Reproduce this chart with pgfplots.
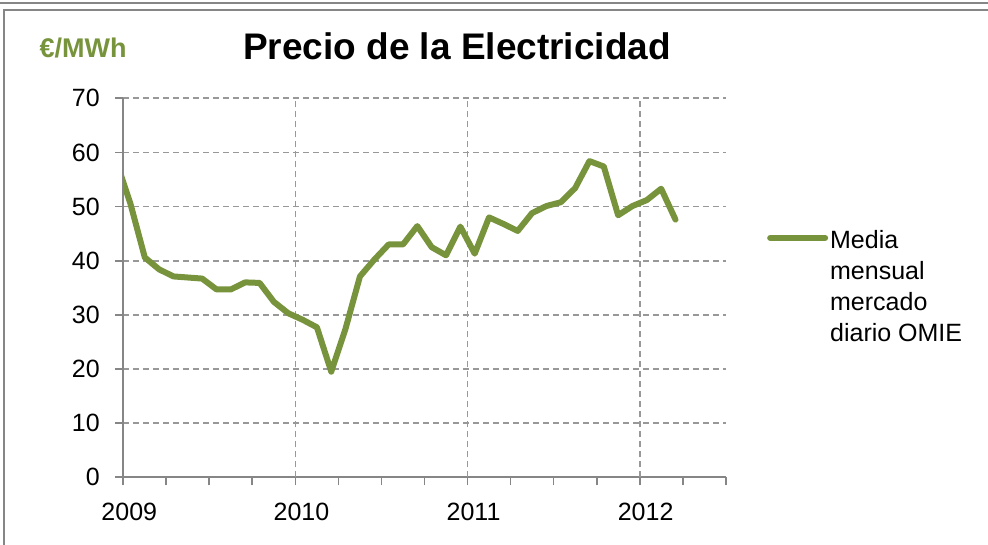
\documentclass[border=0pt]{standalone}
\usepackage{pgfplots}
\pgfplotsset{compat=1.18}
\usepackage{fontspec}
\setmainfont{Liberation Sans}
\definecolor{lgreen}{RGB}{119,147,60}
\definecolor{axgray}{RGB}{134,134,134}
\definecolor{grdgray}{RGB}{152,152,152}
\begin{document}
\begin{tikzpicture}
\useasboundingbox (0pt,0pt) rectangle (988pt,545pt);
\draw[axgray, line width=2.5pt] (0pt,542pt) -- (988pt,542pt);
\draw[axgray, line width=2pt] (4pt,-5pt) -- (4pt,535pt) -- (993pt,535pt);
\node[font=\fontsize{37}{44}\selectfont\bfseries] at (457pt,499pt) {Precio de la Electricidad};
\node[font=\fontsize{27}{32}\selectfont\bfseries, text=lgreen] at (83pt,497pt) {€/MWh};
\begin{axis}[
  at={(123.3pt,67.7pt)}, anchor=south west,
  scale only axis, width=602.4pt, height=379pt,
  xmin=2009, xmax=2012.5, ymin=0, ymax=70,
  axis lines*=left,
  axis line style={axgray, line width=1.8pt},
  xtick={2009,2009.25,2009.5,2009.75,2010,2010.25,2010.5,2010.75,2011,2011.25,2011.5,2011.75,2012,2012.25,2012.5},
  xticklabels={2009,,,,2010,,,,2011,,,,2012,,},
  extra x ticks={2010,2011,2012},
  extra x tick labels={},
  extra x tick style={grid=major, major tick length=0pt},
  ytick={0,10,20,30,40,50,60,70},
  yticklabels={0,10,20,30,40,50,60,70},
  tick align=outside, major tick length=8pt,
  tick style={axgray, line width=1.8pt},
  ymajorgrids,
  major grid style={grdgray, line width=1.8pt, dash pattern=on 6pt off 4pt},
  xticklabel style={font=\fontsize{25}{30}\selectfont, xshift=6pt, yshift=-14pt},
  yticklabel style={font=\fontsize{25}{30}\selectfont, xshift=-12pt},
  legend style={at={(1.0685,0.668)}, anchor=north west, draw=none, fill=none,
    font=\fontsize{25}{31}\selectfont, inner sep=0pt},
  legend cell align=left,
  legend image code/.code={\draw[#1,line cap=round] (0pt,0pt) -- (55pt,0pt);},
]
\addplot[lgreen, line width=6pt, line join=round, line cap=round] table {
x y
2008.9583 58.5
2009.0417 50.5
2009.125 40.6
2009.2083 38.4
2009.2917 37.1
2009.375 36.9
2009.4583 36.7
2009.5417 34.7
2009.625 34.7
2009.7083 36.0
2009.7917 35.9
2009.875 32.4
2009.9583 30.3
2010.0417 29.1
2010.125 27.7
2010.2083 19.5
2010.2917 27.5
2010.375 37.1
2010.4583 40.2
2010.5417 43.0
2010.625 43.0
2010.7083 46.4
2010.7917 42.5
2010.875 41.0
2010.9583 46.3
2011.0417 41.3
2011.125 48.0
2011.2083 46.8
2011.2917 45.5
2011.375 48.8
2011.4583 50.1
2011.5417 50.8
2011.625 53.4
2011.7083 58.4
2011.7917 57.4
2011.875 48.4
2011.9583 50.1
2012.0417 51.2
2012.125 53.3
2012.2083 47.6
};
\addlegendentry{\begin{tabular}[t]{@{}l@{}}Media\\mensual\\mercado\\diario OMIE\end{tabular}}
\end{axis}
\end{tikzpicture}
\end{document}
